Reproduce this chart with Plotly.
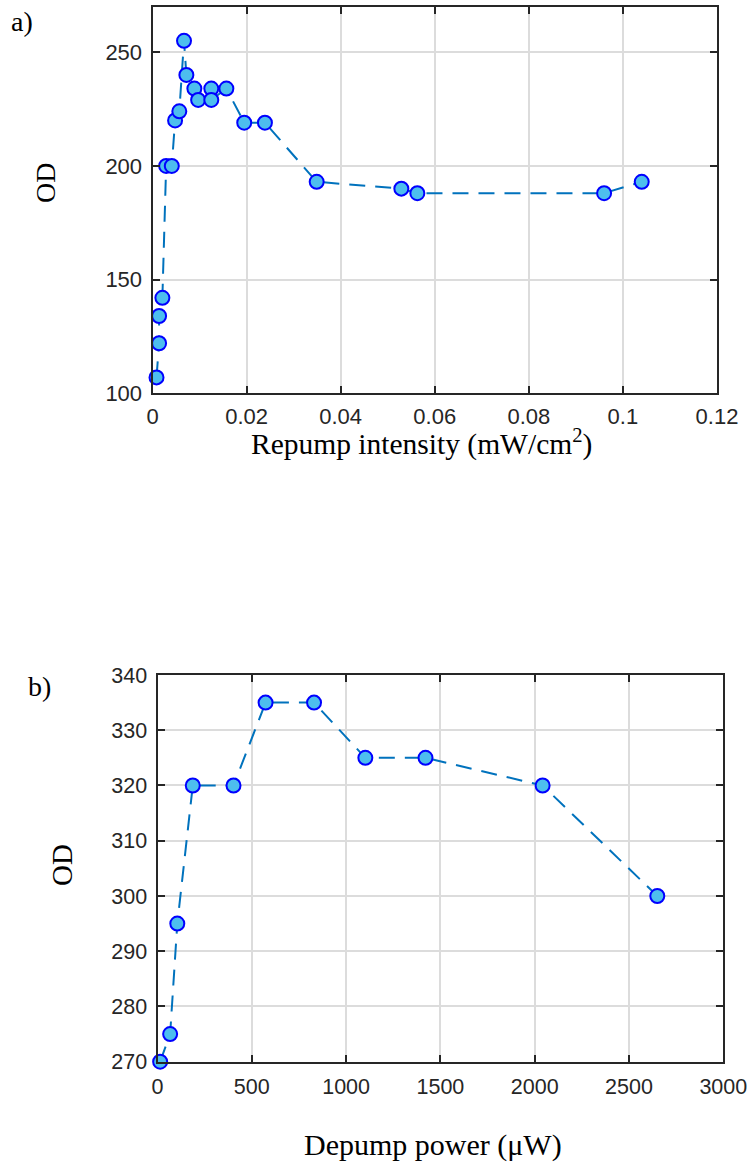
import plotly.graph_objects as go

# ---- data ----
repump_intensity = [0.00085, 0.0014, 0.0014, 0.0021, 0.0029, 0.0041, 0.0048, 0.0057,
                    0.0067, 0.0072, 0.0089, 0.0097, 0.0125, 0.0125, 0.0157, 0.0195,
                    0.0239, 0.0349, 0.0529, 0.0563, 0.0960, 0.1040]
repump_od = [107, 122, 134, 142, 200, 200, 220, 224,
             255, 240, 234, 229, 234, 229, 234, 219,
             219, 193, 190, 188, 188, 193]

depump_power = [14, 67, 105, 187, 403, 573, 830, 1102, 1421, 2042, 2650]
depump_od = [270, 275, 295, 320, 320, 335, 335, 325, 325, 320, 300]

x1_ticks = [0, 0.02, 0.04, 0.06, 0.08, 0.1, 0.12]
x1_ticklabels = ["0", "0.02", "0.04", "0.06", "0.08", "0.1", "0.12"]
y1_ticks = [100, 150, 200, 250]
x2_ticks = [0, 500, 1000, 1500, 2000, 2500, 3000]
y2_ticks = [270, 280, 290, 300, 310, 320, 330, 340]

W, H = 750, 1162
LINE_C = "#0072BD"
FILL_C = "#4DBEEE"
EDGE_C = "#0000FF"
AX_C = "#262626"
GRID_C = "#dcdcdc"
TICK_FONT = "Liberation Sans, Arial, Helvetica, sans-serif"
SERIF = "Liberation Serif, Times New Roman, serif"

fig = go.Figure()

def add_series(x, y, xa, ya):
    fig.add_trace(go.Scatter(
        x=x, y=y, xaxis=xa, yaxis=ya, mode="lines+markers",
        line=dict(color=LINE_C, width=2, dash="16px,10px"),
        marker=dict(size=14, color=FILL_C, line=dict(color=EDGE_C, width=2)),
        cliponaxis=False, showlegend=False, hoverinfo="x+y"))

add_series(repump_intensity, repump_od, "x", "y")
add_series(depump_power, depump_od, "x2", "y2")

def px_dom_x(a, b):
    return [a / W, b / W]

def px_dom_y(top, bottom):
    return [1 - bottom / H, 1 - top / H]

axis_common = dict(
    showline=True, linecolor=AX_C, linewidth=2, mirror="ticks",
    ticks="inside", ticklen=7, tickwidth=1.5, tickcolor=AX_C,
    showgrid=True, gridcolor=GRID_C, gridwidth=1.5, zeroline=False,
    automargin=False,
)

fig.update_layout(
    width=W, height=H, autosize=False,
    margin=dict(l=0, r=0, t=0, b=0, pad=0),
    paper_bgcolor="white", plot_bgcolor="white",
    xaxis=dict(domain=px_dom_x(152.5, 717), range=[0, 0.12],
               tickvals=x1_ticks, ticktext=x1_ticklabels,
               anchor="y", ticklabelstandoff=2,
               tickfont=dict(family=TICK_FONT, size=22, color=AX_C), **axis_common),
    yaxis=dict(domain=px_dom_y(6.7, 393.3), range=[100, 270],
               tickvals=y1_ticks, anchor="x", ticklabelstandoff=4,
               tickfont=dict(family=TICK_FONT, size=22, color=AX_C), **axis_common),
    xaxis2=dict(domain=px_dom_x(157.5, 723.3), range=[0, 3000],
                tickvals=x2_ticks, anchor="y2", ticklabelstandoff=4,
                tickfont=dict(family=TICK_FONT, size=21.5, color=AX_C), **axis_common),
    yaxis2=dict(domain=px_dom_y(675, 1061.7), range=[270, 340],
                tickvals=y2_ticks, anchor="x2", ticklabelstandoff=4,
                tickfont=dict(family=TICK_FONT, size=21.5, color=AX_C), **axis_common),
)

def ann(text, xpx, ypx, size, angle=0):
    fig.add_annotation(text=text, x=xpx / W, y=1 - ypx / H,
                       xref="paper", yref="paper",
                       xanchor="center", yanchor="middle", showarrow=False,
                       textangle=angle, font=dict(family=SERIF, size=size, color="black"))

ann("Repump intensity (mW/cm<sup>2</sup>)", 421, 443, 29.5)
ann("OD", 45, 183, 28, -90)
ann("a)", 22, 21, 28)
ann("Depump power (\u03bcW)", 433, 1145, 30)
ann("OD", 62, 865, 29, -90)
ann("b)", 39, 686, 28)

# remove the browser's default 8px body margin so the 750x1162 figure fills the window exactly
fig.write_html(
    "out.html",
    config={"displayModeBar": False},
    post_script="document.body.style.margin='0';document.body.style.overflow='hidden';",
)
